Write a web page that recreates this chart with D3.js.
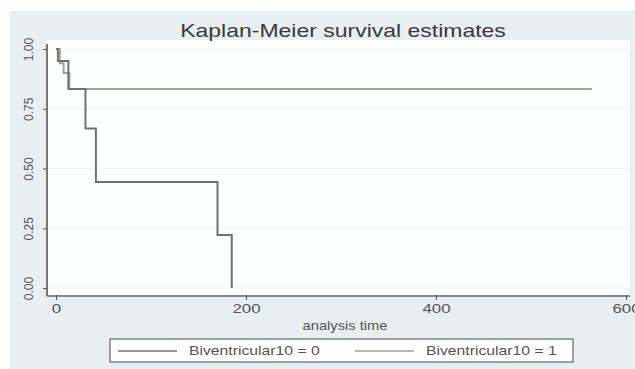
<!DOCTYPE html>
<meta charset="utf-8">
<script src="https://d3js.org/d3.v7.js"></script>
<style>
  body { margin: 0; background: #fff; }
  text { font-family: "Liberation Sans", Arial, sans-serif; }
</style>
<body>
<div id="chart"></div>
<script>
  // Kaplan-Meier step data
  const time0 = [0, 2, 13, 31, 42, 170, 185];
  const surv0 = [1, 0.95, 0.833, 0.667, 0.444, 0.222, 0];
  const time1 = [0, 4, 8, 14, 564];
  const surv1 = [1, 0.94, 0.9, 0.833, 0.833];
  const xTicks = [0, 200, 400, 600];
  const yTicks = [0, 0.25, 0.5, 0.75, 1];
  const groups = ["Biventricular10 = 0", "Biventricular10 = 1"];

  const width = 635, height = 369;

  const svg = d3.select("#chart").append("svg")
    .attr("width", width)
    .attr("height", height);

  // graph region
  svg.append("rect")
    .attr("x", 10).attr("y", 11)
    .attr("width", width - 10).attr("height", height - 11)
    .attr("fill", "#e7eff1");

  const x = d3.scaleLinear().domain([0, 600]).range([56, 626]);
  const y = d3.scaleLinear().domain([0, 1]).range([288, 49]);

  // plot region
  svg.append("rect")
    .attr("x", 47).attr("y", 40)
    .attr("width", 583).attr("height", 256)
    .attr("fill", "#fdfefe");

  svg.selectAll(".grid")
    .data(yTicks)
    .join("line")
      .attr("x1", 48).attr("x2", 629)
      .attr("y1", d => y(d)).attr("y2", d => y(d))
      .attr("stroke", "#eef3f4")
      .attr("stroke-width", 1);

  // the source image is a bit stretched sideways, so horizontal texts get scaleX
  svg.append("text")
    .attr("transform", "translate(343,37) scale(1.21,1)")
    .attr("text-anchor", "middle")
    .style("font-size", "19px")
    .attr("fill", "#3a3a3a")
    .text("Kaplan-Meier survival estimates");

  // y axis
  const yAxis = svg.append("g")
    .attr("transform", "translate(47,0)")
    .call(d3.axisLeft(y).tickValues(yTicks).tickFormat(d3.format(".2f")).tickSize(4).tickPadding(9));
  yAxis.select(".domain").attr("stroke", "#555").attr("stroke-width", 1.6).attr("d", "M0,44V296");
  yAxis.selectAll(".tick line").attr("stroke", "#555");
  yAxis.selectAll(".tick text")
    .attr("transform", "rotate(-90)")
    .attr("x", 0).attr("y", -18)
    .attr("dy", "0.35em")
    .attr("text-anchor", "middle")
    .style("font-size", "12px")
    .attr("fill", "#555");

  // x axis
  const xAxis = svg.append("g")
    .attr("transform", "translate(0,296)")
    .call(d3.axisBottom(x).tickValues(xTicks).tickSize(-4).tickPadding(8));
  xAxis.select(".domain").attr("stroke", "#666").attr("stroke-width", 1.6).attr("d", "M47,0H630");
  xAxis.selectAll(".tick line").attr("stroke", "#555").attr("y2", 4).attr("y1", -1);
  xAxis.selectAll(".tick text")
    .attr("transform", "scale(1.3,1)")
    .style("font-size", "13px")
    .attr("fill", "#555");

  svg.append("text")
    .attr("transform", "translate(345,330) scale(1.13,1)")
    .attr("text-anchor", "middle")
    .style("font-size", "13px")
    .attr("fill", "#555")
    .text("analysis time");

  const line = d3.line()
    .x(d => x(d[0]))
    .y(d => y(d[1]))
    .curve(d3.curveStepAfter);

  const colors = ["#727272", "#a5a196"];

  svg.append("path")
    .datum(d3.zip(time1, surv1))
    .attr("d", line)
    .attr("fill", "none")
    .attr("stroke", colors[1])
    .attr("stroke-width", 2);

  svg.append("path")
    .datum(d3.zip(time0, surv0))
    .attr("d", line)
    .attr("fill", "none")
    .attr("stroke", colors[0])
    .attr("stroke-width", 2);

  // legend
  svg.append("rect")
    .attr("x", 110).attr("y", 339)
    .attr("width", 463).attr("height", 23)
    .attr("fill", "#fff")
    .attr("stroke", "#666")
    .attr("stroke-width", 1.2);

  const leg = svg.selectAll(".leg")
    .data(groups)
    .join("g")
      .attr("transform", (d, i) => `translate(${i === 0 ? 118 : 355},351)`);
  leg.append("line")
    .attr("x1", 0).attr("x2", 59)
    .attr("stroke", (d, i) => colors[i])
    .attr("stroke-width", 1.5);
  leg.append("text")
    .attr("transform", "translate(71,0) scale(1.26,1)")
    .attr("dy", "0.35em")
    .style("font-size", "12.5px")
    .attr("fill", "#555")
    .text(d => d);
</script>
</body>
